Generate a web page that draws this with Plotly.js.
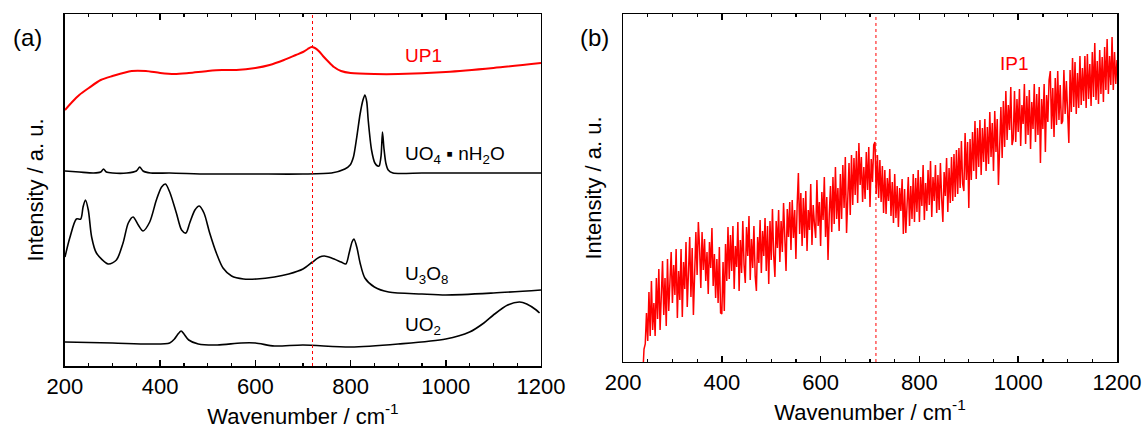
<!DOCTYPE html>
<html>
<head>
<meta charset="utf-8">
<script src="https://cdn.plot.ly/plotly-3.0.1.min.js"></script>
<style>html,body{margin:0;padding:0;background:#fff;}#chart{width:1144px;height:431px;}</style>
</head>
<body>
<div id="chart"></div>
<script>
// ---- Panel (a) data (intensity in arbitrary units) ----
const up1X = [200,215,230,250,275,300,340,370,400,430,460,500,530,560,600,630,660,685,700,710,718,725,733,742,752,765,780,800,850,900,1000,1100,1200];
const up1Y = [256,264,271,278,286,290,295,295,293,292,293,295,296,296,298,301,306,311,314,317,319,318,315,310,305,299,295,293,292,292,294,298,303];

const uo4X = [200,230,260,275,281,287,300,330,350,357,364,380,420,500,600,700,760,788,799,806,813,820,826,830,834,837,844,851,857,860,864,867,870,874,879,889,950,1050,1200];
const uo4Y = [195,194,193,194,197,194,193,193,195,199,195,193,193,192,192,192,193,197,201,209,229,252,266,271,264,246,216,203,200,200,210,234,218,203,196,193,193,193,193];

const u3o8X = [200,210,224,233,238,243,249,256,266,291,308,322,333,343,354,364,378,392,403,411,420,434,445,454,462,473,482,492,504,518,532,550,575,603,640,670,700,720,735,745,760,780,790,797,803,807,813,820,830,850,880,950,1000,1100,1200];
const u3o8Y = [109,128,147,147,159,166,156,129,113,102,106,123,143,149,141,135,144,166,179,182,174,153,136,133,143,156,160,153,133,113,98,90,87,87,89,92,97,104,109,110,108,104,102,113,124,127,119,103,88,79,74,72,71,73,76];

const uo2X = [200,300,380,420,430,436,444,450,460,480,520,570,600,640,700,800,900,1000,1050,1080,1100,1130,1155,1170,1190,1197];
const uo2Y = [24,23,22,23,27,31,35,32,26,22,21,23,23,20,21,19,22,27,34,43,51,61,64,62,56,53];

// ---- Panel (b) data: IP1, sampled every 2.5 cm-1 from 240 cm-1 ----
const ip1Start = 240;
const ip1Step = 2.5;
const ip1Y = [
  -13, 13, 18, 49, 21, 70, 26, 81, 32, 59,
  26, 84, 43, 93, 32, 72, 101, 47, 84, 36,
  103, 51, 90, 110, 59, 97, 67, 113, 44, 91,
  62, 113, 45, 100, 73, 120, 55, 101, 125, 65,
  114, 47, 83, 130, 87, 140, 114, 74, 130, 92,
  123, 81, 110, 68, 120, 94, 134, 76, 108, 64,
  103, 59, 115, 49, 48, 100, 51, 118, 81, 135,
  83, 127, 91, 136, 73, 116, 95, 140, 71, 122,
  89, 141, 97, 79, 135, 106, 146, 82, 123, 94,
  136, 86, 71, 125, 99, 142, 89, 131, 106, 144,
  91, 136, 78, 141, 102, 153, 107, 85, 141, 114,
  152, 100, 141, 110, 159, 120, 91, 153, 125, 160,
  112, 162, 124, 152, 103, 157, 189, 128, 169, 116,
  164, 124, 171, 111, 152, 132, 178, 117, 157, 138,
  124, 182, 136, 160, 116, 170, 142, 185, 125, 165,
  102, 148, 176, 130, 185, 138, 195, 143, 174, 131,
  188, 143, 197, 154, 205, 129, 160, 199, 147, 207,
  157, 204, 167, 211, 159, 219, 177, 205, 160, 195,
  163, 210, 172, 215, 155, 203, 180, 217, 220, 168,
  207, 164, 202, 160, 196, 149, 192, 148, 184, 161,
  193, 146, 180, 139, 188, 144, 176, 135, 174, 151,
  183, 128, 173, 129, 157, 185, 136, 176, 143, 188,
  140, 184, 150, 192, 140, 185, 156, 197, 142, 179,
  151, 192, 157, 201, 145, 185, 161, 197, 149, 187,
  152, 199, 164, 140, 190, 166, 204, 150, 194, 159,
  205, 161, 208, 165, 212, 168, 214, 174, 221, 178,
  171, 229, 182, 220, 154, 223, 182, 230, 191, 241,
  183, 234, 195, 242, 187, 234, 200, 243, 191, 235,
  198, 250, 205, 239, 191, 251, 210, 243, 177, 232,
  255, 204, 261, 215, 271, 222, 257, 232, 275, 217,
  223, 271, 220, 263, 230, 273, 216, 257, 238, 278,
  218, 266, 227, 272, 213, 260, 233, 278, 220, 268,
  227, 275, 199, 263, 233, 278, 210, 267, 240, 282,
  291, 233, 274, 225, 284, 237, 291, 242, 277, 238,
  241, 292, 248, 281, 242, 219, 292, 250, 304, 255,
  300, 248, 289, 254, 306, 257, 294, 261, 306, 254,
  308, 263, 298, 256, 310, 265, 319, 262, 301, 258,
  312, 268, 305, 260, 315, 272, 323, 268, 306, 277,
  325, 272, 310, 278, 302
];
const ip1X = ip1Y.map((_, i) => ip1Start + i * ip1Step);

const refLineA = 720;
const refLineB = 712;

const FONT = 'Liberation Sans, Arial, sans-serif';
const BLACK = '#000000';
const RED = '#ff0000';

const traces = [
  {x: up1X, y: up1Y, xaxis: 'x', yaxis: 'y', mode: 'lines', line: {color: RED, width: 2, shape: 'spline', smoothing: 0.8}},
  {x: uo4X, y: uo4Y, xaxis: 'x', yaxis: 'y', mode: 'lines', line: {color: BLACK, width: 1.6, shape: 'spline', smoothing: 0.7}},
  {x: u3o8X, y: u3o8Y, xaxis: 'x', yaxis: 'y', mode: 'lines', line: {color: BLACK, width: 1.6, shape: 'spline', smoothing: 0.8}},
  {x: uo2X, y: uo2Y, xaxis: 'x', yaxis: 'y', mode: 'lines', line: {color: BLACK, width: 1.6, shape: 'spline', smoothing: 0.8}},
  {x: ip1X, y: ip1Y, xaxis: 'x2', yaxis: 'y2', mode: 'lines', line: {color: RED, width: 1.5}}
];

function xAxis(domain, anchor) {
  return {
    domain: domain, anchor: anchor, range: [200, 1200],
    showline: true, linecolor: BLACK, linewidth: 1.5, mirror: 'ticks',
    ticks: 'inside', ticklen: 6, tickwidth: 1.5, tickcolor: BLACK,
    tick0: 200, dtick: 200,
    minor: {ticks: 'inside', ticklen: 3, tickwidth: 1.2, tickcolor: BLACK, dtick: 50, showgrid: false},
    tickfont: {family: FONT, size: 22, color: BLACK},
    showgrid: false, zeroline: false,
    title: {text: 'Wavenumber / cm<sup>-1</sup>', font: {family: FONT, size: 22, color: BLACK}, standoff: 10}
  };
}
function yAxis(domain, anchor, range) {
  return {
    domain: domain, anchor: anchor, range: range,
    showline: true, linecolor: BLACK, linewidth: 1.5, mirror: true,
    ticks: '', showticklabels: false, showgrid: false, zeroline: false,
    title: {text: 'Intensity / a. u.', font: {family: FONT, size: 22, color: BLACK}, standoff: 14}
  };
}

const layout = {
  width: 1144, height: 431,
  margin: {l: 0, r: 0, t: 0, b: 0},
  paper_bgcolor: '#ffffff', plot_bgcolor: '#ffffff',
  showlegend: false,
  font: {family: FONT, color: BLACK},
  xaxis: xAxis([0.0568, 0.4729], 'y'),
  yaxis: yAxis([0.1508, 0.9675], 'x', [0, 352]),
  xaxis2: xAxis([0.5446, 0.9764], 'y2'),
  yaxis2: yAxis([0.1601, 0.9675], 'x2', [0, 348]),
  shapes: [
    {type: 'line', xref: 'x', yref: 'y domain', x0: refLineA, x1: refLineA, y0: 0, y1: 1, line: {color: RED, width: 1, dash: 'dot'}},
    {type: 'line', xref: 'x2', yref: 'y2 domain', x0: refLineB, x1: refLineB, y0: 0, y1: 1, line: {color: RED, width: 1, dash: 'dot'}}
  ],
  annotations: [
    {xref: 'paper', yref: 'paper', x: 27/1144, y: 1 - 38/431, text: '(a)', showarrow: false, xanchor: 'center', yanchor: 'middle', font: {family: FONT, size: 24, color: BLACK}},
    {xref: 'paper', yref: 'paper', x: 594/1144, y: 1 - 38/431, text: '(b)', showarrow: false, xanchor: 'center', yanchor: 'middle', font: {family: FONT, size: 24, color: BLACK}},
    {xref: 'x', yref: 'y', x: 910, y: 311, text: 'UP1', showarrow: false, xanchor: 'left', yanchor: 'middle', font: {family: FONT, size: 19, color: RED}},
    {xref: 'x', yref: 'y', x: 910, y: 211, text: 'UO<sub>4</sub> ▪ nH<sub>2</sub>O', showarrow: false, xanchor: 'left', yanchor: 'middle', font: {family: FONT, size: 19, color: BLACK}},
    {xref: 'x', yref: 'y', x: 910, y: 91, text: 'U<sub>3</sub>O<sub>8</sub>', showarrow: false, xanchor: 'left', yanchor: 'middle', font: {family: FONT, size: 19, color: BLACK}},
    {xref: 'x', yref: 'y', x: 910, y: 40, text: 'UO<sub>2</sub>', showarrow: false, xanchor: 'left', yanchor: 'middle', font: {family: FONT, size: 19, color: BLACK}},
    {xref: 'x2', yref: 'y2', x: 959, y: 299, text: 'IP1', showarrow: false, xanchor: 'left', yanchor: 'middle', font: {family: FONT, size: 19, color: RED}}
  ]
};

Plotly.newPlot('chart', traces, layout, {displayModeBar: false, staticPlot: true});
</script>
</body>
</html>
